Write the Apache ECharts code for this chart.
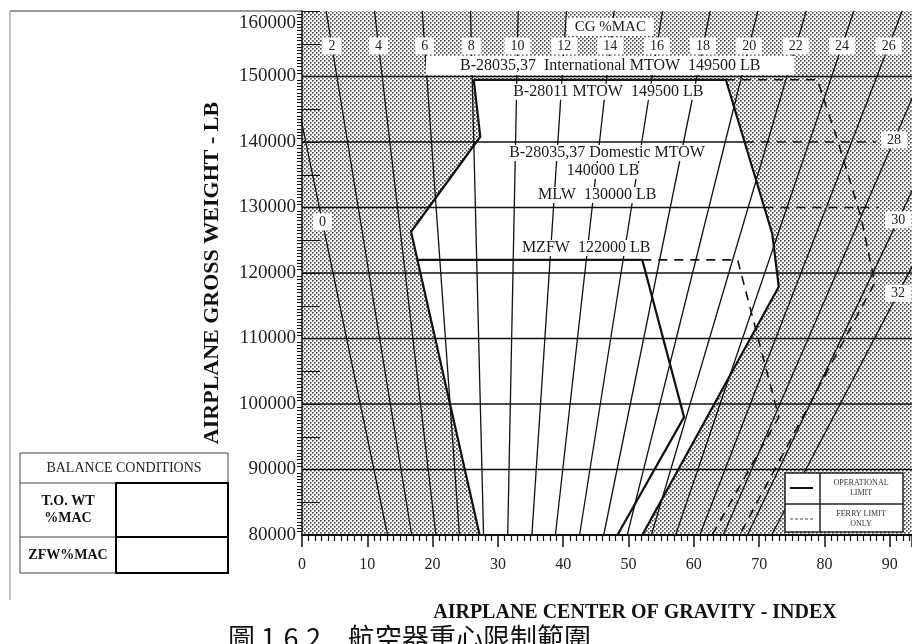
<!DOCTYPE html>
<html>
<head>
<meta charset="utf-8">
<script src="https://cdn.jsdelivr.net/npm/echarts@6/dist/echarts.min.js"></script>
<style>
  html, body { margin: 0; padding: 0; background: #fff; }
  #chart { width: 912px; height: 644px; }
</style>
</head>
<body>
<div id="chart"></div>
<script>
// ---- CG %MAC reference lines (index read at 80 000 lb and at 160 000 lb) ----
const macPercent     = [0, 2, 4, 6, 8, 10, 12, 14, 16, 18, 20, 22, 24, 26, 28, 30, 32];
const macIndexAt80k  = [13.1, 16.8, 20.5, 24.1, 27.8, 31.5, 35.2, 38.8, 42.5, 46.2, 49.8, 53.5, 57.2, 60.9, 64.5, 68.2, 71.9];
const macIndexAt160k = [-3.6, 3.7, 11.1, 18.4, 25.8, 33.1, 40.5, 47.8, 55.2, 62.5, 69.8, 77.2, 84.5, 91.9, 99.2, 106.6, 113.9];

// ---- operational limit envelope, [index, gross weight lb] ----
const opEnvelope = [
  [27.2, 80000], [16.7, 126300], [26.7, 140000], [27.3, 140800], [26.3, 149500],
  [64.9, 149500], [72.0, 126000], [73.0, 117900], [52.1, 80000]
];
// zero fuel weight limit (MZFW 122000 lb)
const zfwLimit = [[17.7, 122000], [52.1, 122000], [58.5, 98000], [48.3, 80000]];

// ---- ferry limits (dashed) ----
const ferryTakeoff  = [[64.9, 149500], [78.9, 149500], [82.0, 140300], [85.6, 128500], [87.7, 118500], [67.0, 80000]];
const ferryZfw      = [[52.1, 122000], [66.7, 122000], [73.0, 98000], [62.8, 80000]];
const ferryDomestic = [[67.8, 140000], [87.9, 140000]];
const ferryLanding  = [[70.8, 130000], [88.3, 130000]];

// ---- weight lines ----
const fullWeightLines = [90000, 100000, 110000, 120000, 150000];
const domesticMtow = [[0, 140000], [67.8, 140000]];
const mlw          = [[0, 130000], [70.8, 130000]];

// ---- tick labels ----
const indexTicks  = [0, 10, 20, 30, 40, 50, 60, 70, 80, 90];
const weightTicks = [80000, 90000, 100000, 110000, 120000, 130000, 140000, 150000, 160000];

// ---- chart notes: text with its anchor [index, weight] ----
const notes = [
  { text: 'CG %MAC', at: [47.2, 157550], kind: 'head' },
  { text: 'B-28035,37  International MTOW  149500 LB', at: [47.2, 151680], kind: 'wide' },
  { text: 'B-28011 MTOW  149500 LB', at: [46.9, 147680], kind: 'limit' },
  { text: 'B-28035,37 Domestic MTOW', at: [46.7, 138320], kind: 'limit' },
  { text: '140000 LB', at: [46.1, 135570], kind: 'limit' },
  { text: 'MLW  130000 LB', at: [45.2, 131910], kind: 'limit' },
  { text: 'MZFW  122000 LB', at: [43.5, 123820], kind: 'limit' }
];
// weight at which each %MAC line carries its number
const macLabelWeight = { 0: 127800, 28: 140300, 30: 128100, 32: 116900 };
const macTopRowWeight = 154660;

const SERIF = '"Liberation Serif", "DejaVu Serif", serif';
const INK = '#111';

// dotted screen used outside the envelope
function makeStipple() {
  const c = document.createElement('canvas');
  c.width = 4; c.height = 4;
  const g = c.getContext('2d');
  g.fillStyle = '#ffffff'; g.fillRect(0, 0, 4, 4);
  [[0, 0], [2, 2]].forEach(([x, y]) => {
    g.fillStyle = '#4a4a4a'; g.fillRect(x, y, 1, 1);
    g.fillStyle = '#8c8c8c'; g.fillRect(x + 1, y, 1, 1); g.fillRect(x, y + 1, 1, 1);
    g.fillStyle = '#b4b4b4'; g.fillRect(x + 1, y + 1, 1, 1);
  });
  return { image: c, repeat: 'repeat' };
}
const stipple = makeStipple();

function macIndexAt(i, w) {
  const a = macIndexAt80k[i], b = macIndexAt160k[i];
  return a + (b - a) * (w - 80000) / 80000;
}

const series = [];

// stipple background with the white operational envelope cut out
series.push({
  type: 'custom', coordinateSystem: 'cartesian2d', silent: true, clip: true,
  data: [[0, 80000]], z: 1,
  renderItem(params, api) {
    const cs = params.coordSys;
    return {
      type: 'group',
      children: [
        { type: 'rect', shape: { x: cs.x, y: cs.y, width: cs.width, height: cs.height }, style: { fill: stipple } },
        { type: 'polygon', shape: { points: opEnvelope.map(p => api.coord(p)) }, style: { fill: '#fff' } }
      ]
    };
  }
});

// %MAC lines
macPercent.forEach((p, i) => {
  series.push({
    type: 'line', silent: true, symbol: 'none', clip: true, z: 2,
    data: [[macIndexAt80k[i], 80000], [macIndexAt160k[i], 160000]],
    lineStyle: { color: INK, width: 1.3 }
  });
});

// weight lines across the chart
fullWeightLines.forEach(w => {
  series.push({
    type: 'line', silent: true, symbol: 'none', clip: true, z: 3,
    data: [[0, w], [93.4, w]], lineStyle: { color: INK, width: 1.4 }
  });
});
[domesticMtow, mlw].forEach(d => {
  series.push({ type: 'line', silent: true, symbol: 'none', clip: true, z: 3, data: d, lineStyle: { color: INK, width: 1.4 } });
});

// operational limits (solid)
series.push({
  type: 'line', silent: true, symbol: 'none', clip: true, z: 4,
  data: opEnvelope, lineStyle: { color: INK, width: 2.2 }
});
series.push({
  type: 'line', silent: true, symbol: 'none', clip: true, z: 4,
  data: zfwLimit, lineStyle: { color: INK, width: 2.2 }
});

// ferry limits (dashed)
[ferryTakeoff, ferryZfw, ferryDomestic, ferryLanding].forEach(d => {
  series.push({
    type: 'line', silent: true, symbol: 'none', clip: true, z: 4,
    data: d, lineStyle: { color: INK, width: 1.6, type: [9, 7] }
  });
});

// %MAC numbers and notes with white backing
const macLabelData = [];
macPercent.forEach((p, i) => {
  let w = macLabelWeight[p];
  if (w === undefined) {
    if (p >= 2 && p <= 26) w = macTopRowWeight; else return;
  }
  macLabelData.push([macIndexAt(i, w), w, String(p)]);
});
series.push({
  type: 'custom', coordinateSystem: 'cartesian2d', silent: true, clip: false, z: 6,
  data: macLabelData,
  renderItem(params, api) {
    const pt = api.coord([api.value(0), api.value(1)]);
    return {
      type: 'text', x: pt[0], y: pt[1],
      style: {
        text: macLabelData[params.dataIndex][2], font: '14px ' + SERIF, fill: '#222',
        align: 'center', verticalAlign: 'middle', backgroundColor: '#fff', padding: [2, 6, 1, 6]
      }
    };
  }
});
const noteStyle = {
  head:  { size: 15, pad: [2, 8, 1, 8] },
  wide:  { size: 16, pad: [2, 34, 1, 34] },
  limit: { size: 16, pad: [0, 2, 0, 2] }
};
series.push({
  type: 'custom', coordinateSystem: 'cartesian2d', silent: true, clip: false, z: 6,
  data: notes.map(n => n.at),
  renderItem(params, api) {
    const n = notes[params.dataIndex];
    const st = noteStyle[n.kind];
    const pt = api.coord([api.value(0), api.value(1)]);
    return {
      type: 'text', x: pt[0], y: pt[1],
      style: {
        text: n.text, font: st.size + 'px ' + SERIF, fill: '#1a1a1a',
        align: 'center', verticalAlign: 'middle', backgroundColor: '#fff', padding: st.pad
      }
    };
  }
});

const option = {
  animation: false,
  backgroundColor: '#fff',
  grid: { left: 302, top: 11, right: 0, bottom: 109, containLabel: false },
  xAxis: {
    type: 'value', min: 0, max: 93.4, interval: 10, z: 8,
    name: 'AIRPLANE CENTER OF GRAVITY - INDEX', nameLocation: 'middle', nameGap: 68,
    nameTextStyle: { fontFamily: SERIF, fontWeight: 'bold', fontSize: 20, color: '#111', padding: [0, 0, 0, 56] },
    axisLine: { show: true, onZero: false, lineStyle: { color: INK, width: 2 } },
    axisTick: { show: true, length: 12, lineStyle: { color: INK, width: 1.5 } },
    minorTick: { show: true, splitNumber: 10, length: 6, lineStyle: { color: INK, width: 1.2 } },
    splitLine: { show: false },
    axisLabel: {
      fontFamily: SERIF, fontSize: 16, color: '#222', margin: 22, showMaxLabel: false,
      formatter: v => (indexTicks.includes(v) ? String(v) : '')
    }
  },
  yAxis: [{
    type: 'value', min: 80000, max: 160000, interval: 10000, z: 8,
    name: 'AIRPLANE GROSS WEIGHT - LB', nameLocation: 'middle', nameGap: 79, nameRotate: 90,
    nameTextStyle: { fontFamily: SERIF, fontWeight: 'bold', fontSize: 22, color: '#111' },
    axisLine: { show: true, lineStyle: { color: INK, width: 1.5 } },
    axisTick: { show: false },
    minorTick: { show: true, splitNumber: 20, length: 5, lineStyle: { color: INK, width: 1 } },
    splitLine: { show: false },
    axisLabel: {
      fontFamily: SERIF, fontSize: 19, color: '#222', margin: 6,
      formatter: v => (weightTicks.includes(v) ? (v === 160000 ? '{top|' + v + '}' : String(v)) : ''),
      rich: { top: { fontFamily: SERIF, fontSize: 19, color: '#222', padding: [24, 0, 0, 0] } }
    }
  }, {
    type: 'value', min: 80000, max: 160000, interval: 5000, z: 8, position: 'left', offset: 0,
    axisLine: { show: false },
    axisTick: { show: true, inside: true, length: 18, lineStyle: { color: INK, width: 1 } },
    axisLabel: { show: false }, splitLine: { show: false }
  }],
  series: series,
  graphic: [
    // page frame
    { type: 'line', shape: { x1: 10, y1: 11, x2: 302, y2: 11 }, style: { stroke: '#333', lineWidth: 1 } },
    { type: 'line', shape: { x1: 10, y1: 11, x2: 10, y2: 600 }, style: { stroke: '#888', lineWidth: 1 } },
    // balance conditions table
    { type: 'rect', shape: { x: 20, y: 453, width: 208, height: 120 }, style: { fill: '#fff', stroke: '#444', lineWidth: 1 } },
    { type: 'line', shape: { x1: 20, y1: 483, x2: 228, y2: 483 }, style: { stroke: '#444', lineWidth: 1 } },
    { type: 'line', shape: { x1: 20, y1: 537, x2: 116, y2: 537 }, style: { stroke: '#444', lineWidth: 1 } },
    { type: 'rect', shape: { x: 116, y: 483, width: 112, height: 54 }, style: { fill: 'none', stroke: '#000', lineWidth: 2 } },
    { type: 'rect', shape: { x: 116, y: 537, width: 112, height: 36 }, style: { fill: 'none', stroke: '#000', lineWidth: 2 } },
    { type: 'text', x: 124, y: 468, style: { text: 'BALANCE CONDITIONS', font: '14px ' + SERIF, fill: '#222', align: 'center', verticalAlign: 'middle' } },
    { type: 'text', x: 68, y: 510, style: { text: 'T.O. WT\n%MAC', font: 'bold 14px ' + SERIF, fill: '#111', align: 'center', verticalAlign: 'middle', lineHeight: 17 } },
    { type: 'text', x: 68, y: 555, style: { text: 'ZFW%MAC', font: 'bold 14px ' + SERIF, fill: '#111', align: 'center', verticalAlign: 'middle' } },
    // line-type key
    { type: 'rect', z: 20, shape: { x: 785, y: 473, width: 118, height: 59 }, style: { fill: '#fff', stroke: '#222', lineWidth: 1.5 } },
    { type: 'line', z: 21, shape: { x1: 820, y1: 473, x2: 820, y2: 532 }, style: { stroke: '#222', lineWidth: 1.5 } },
    { type: 'line', z: 21, shape: { x1: 785, y1: 504, x2: 903, y2: 504 }, style: { stroke: '#222', lineWidth: 1.5 } },
    { type: 'line', z: 21, shape: { x1: 790, y1: 488, x2: 813, y2: 488 }, style: { stroke: '#111', lineWidth: 2 } },
    { type: 'line', z: 21, shape: { x1: 790, y1: 519, x2: 813, y2: 519 }, style: { stroke: '#444', lineWidth: 1, lineDash: [3, 2] } },
    { type: 'text', z: 21, x: 861, y: 488, style: { text: 'OPERATIONAL\nLIMIT', font: '8px ' + SERIF, fill: '#333', align: 'center', verticalAlign: 'middle', lineHeight: 10 } },
    { type: 'text', z: 21, x: 861, y: 519, style: { text: 'FERRY LIMIT\nONLY', font: '8px ' + SERIF, fill: '#333', align: 'center', verticalAlign: 'middle', lineHeight: 10 } },
    // figure caption
    { type: 'text', x: 228, y: 624, style: { text: '圖 1.6.2　航空器重心限制範圍', font: '27px "Noto Sans CJK TC", sans-serif', fill: '#111', align: 'left', verticalAlign: 'top' } }
  ]
};

const chart = echarts.init(document.getElementById('chart'), null, { renderer: 'canvas' });
chart.setOption(option);
</script>
</body>
</html>
